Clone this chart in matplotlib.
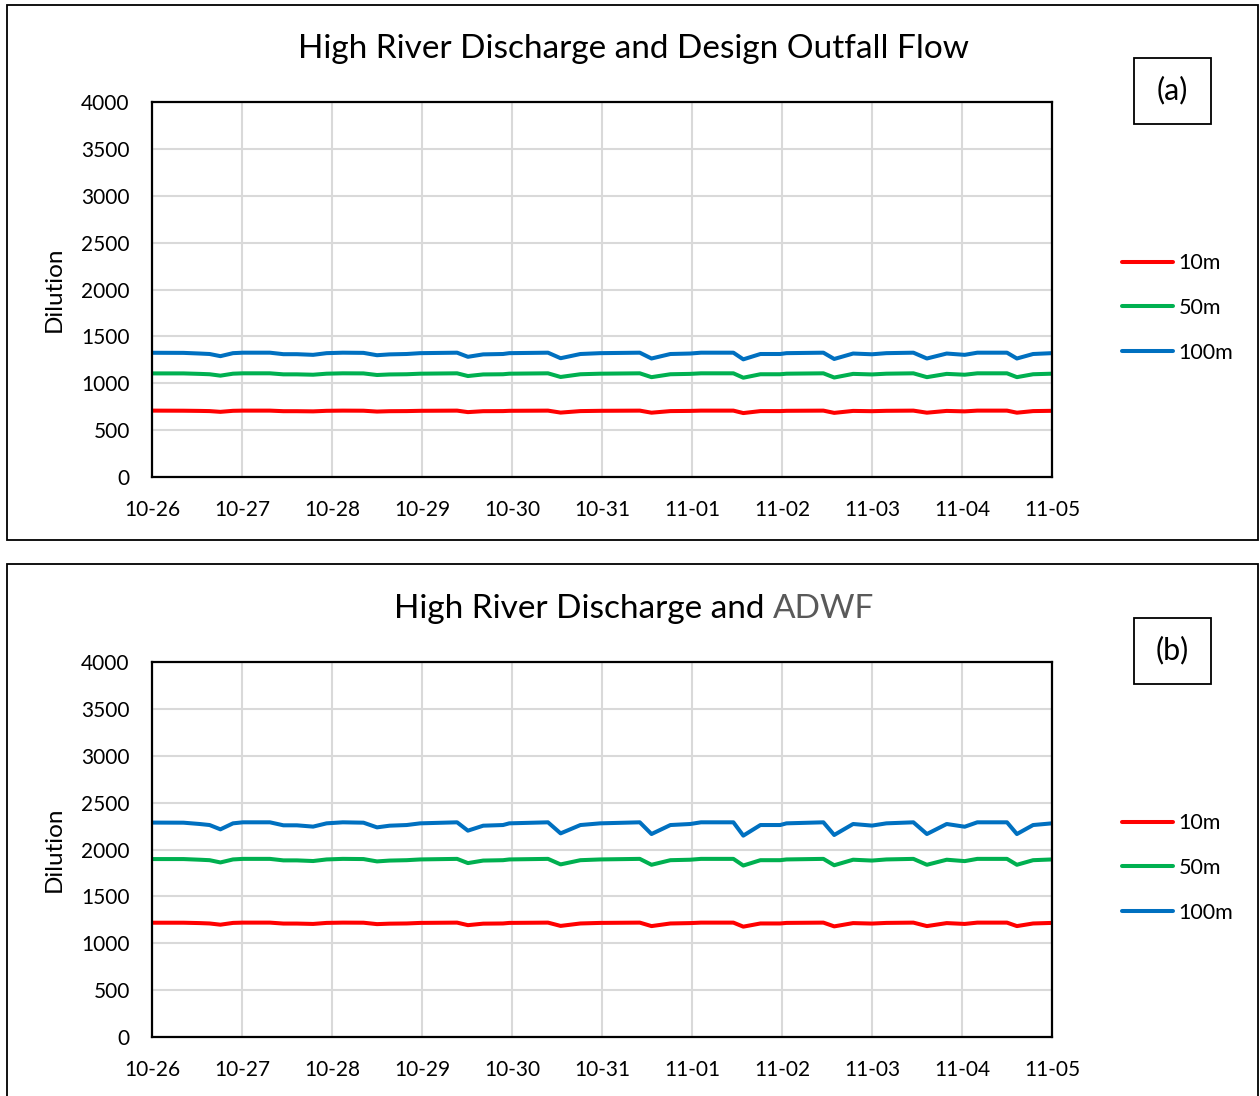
import matplotlib
matplotlib.use("Agg")
import matplotlib.pyplot as plt
from matplotlib.patches import Rectangle

plt.rcParams['font.family'] = ['Lato', 'DejaVu Sans']

# ---- data ----
days = [0.00, 0.35, 0.53, 0.64, 0.76, 0.90, 1.01, 1.31, 1.46, 1.61, 1.79, 1.94, 2.12, 2.35, 2.50,
        2.64, 2.83, 2.98, 3.39, 3.51, 3.68, 3.90, 3.97, 4.40, 4.54, 4.76, 4.98, 5.42, 5.55, 5.76,
        5.98, 6.10, 6.46, 6.57, 6.76, 6.98, 7.05, 7.46, 7.58, 7.79, 8.00, 8.16, 8.46, 8.61, 8.83,
        9.03, 9.17, 9.50, 9.61, 9.79, 10.00]

a_10m = [708, 707, 705, 703, 695, 706, 708, 708, 702, 702, 700, 706, 708, 707, 698, 702, 703, 706,
         708, 692, 702, 703, 706, 708, 687, 703, 706, 708, 686, 703, 705, 708, 708, 682, 703, 703,
         706, 708, 684, 705, 702, 706, 708, 686, 705, 700, 708, 708, 686, 703, 706]
a_50m = [1105, 1105, 1100, 1096, 1081, 1102, 1106, 1106, 1095, 1095, 1091, 1102, 1106, 1105, 1088,
         1094, 1096, 1102, 1106, 1077, 1094, 1096, 1102, 1106, 1067, 1096, 1102, 1106, 1065, 1096,
         1100, 1106, 1106, 1059, 1096, 1096, 1102, 1106, 1061, 1100, 1094, 1102, 1106, 1065, 1100,
         1091, 1106, 1106, 1065, 1096, 1102]
a_100m = [1325, 1324, 1317, 1312, 1289, 1321, 1326, 1326, 1310, 1310, 1303, 1321, 1326, 1324, 1299,
          1308, 1312, 1321, 1326, 1282, 1308, 1312, 1321, 1326, 1267, 1312, 1321, 1326, 1264, 1312,
          1317, 1326, 1326, 1255, 1312, 1312, 1321, 1326, 1259, 1317, 1309, 1321, 1326, 1264, 1317,
          1303, 1326, 1326, 1264, 1312, 1321]

b_10m = [1219, 1219, 1215, 1211, 1198, 1217, 1220, 1220, 1210, 1210, 1206, 1217, 1220, 1219, 1204,
         1209, 1211, 1217, 1220, 1193, 1209, 1211, 1217, 1220, 1185, 1211, 1217, 1220, 1183, 1211,
         1215, 1220, 1220, 1177, 1211, 1211, 1217, 1220, 1180, 1215, 1210, 1217, 1220, 1183, 1215,
         1206, 1220, 1220, 1183, 1211, 1217]
b_50m = [1898, 1898, 1891, 1886, 1862, 1894, 1900, 1900, 1884, 1884, 1877, 1894, 1900, 1898, 1873,
         1882, 1886, 1894, 1900, 1855, 1882, 1886, 1894, 1900, 1841, 1886, 1894, 1900, 1837, 1886,
         1891, 1900, 1900, 1829, 1886, 1886, 1894, 1900, 1832, 1891, 1882, 1894, 1900, 1837, 1891,
         1876, 1900, 1900, 1837, 1886, 1894]
b_100m = [2287, 2286, 2272, 2261, 2215, 2279, 2290, 2290, 2258, 2258, 2244, 2279, 2290, 2286, 2236,
          2254, 2261, 2279, 2290, 2201, 2254, 2261, 2279, 2290, 2172, 2261, 2279, 2290, 2165, 2261,
          2272, 2290, 2290, 2148, 2261, 2261, 2279, 2290, 2155, 2272, 2255, 2279, 2290, 2165, 2272,
          2243, 2290, 2290, 2165, 2261, 2279]

xtick_labels = ['10-26', '10-27', '10-28', '10-29', '10-30', '10-31', '11-01', '11-02', '11-03',
                '11-04', '11-05']
yticks = [0, 500, 1000, 1500, 2000, 2500, 3000, 3500, 4000]
series_names = ['10m', '50m', '100m']
colors = ['#ff0000', '#00b050', '#0070c0']

W, H = 1260, 1096
fig = plt.figure(figsize=(W / 100, H / 100), dpi=100)
fig.patch.set_facecolor('white')


def fx(px):
    return px / W


def fy(py):
    return 1 - py / H


def panel(top_px, box_top, box_bot, series, title_parts, tag):
    # outer box
    fig.add_artist(Rectangle((fx(7), fy(box_bot)), fx(1258) - fx(7), fy(box_top) - fy(box_bot),
                             transform=fig.transFigure, fill=False, edgecolor='black', lw=1.3))
    ax = fig.add_axes([fx(152), fy(top_px + 375), fx(900), 375 / H])
    for vals, c, n in zip(series, colors, series_names):
        ax.plot(days, vals, color=c, lw=2.9, label=n, solid_joinstyle='round', solid_capstyle='round')
    ax.set_xlim(0, 10)
    ax.set_ylim(0, 4000)
    ax.set_xticks(range(len(xtick_labels)))
    ax.set_xticklabels(xtick_labels)
    ax.set_yticks(yticks)
    ax.tick_params(length=0, labelsize=15, colors='black')
    ax.tick_params(axis='x', pad=16.5)
    ax.tick_params(axis='y', pad=16)
    ax.grid(True, color='#d9d9d9', lw=1.5)
    ax.set_axisbelow(True)
    for s in ax.spines.values():
        s.set_linewidth(1.6)
        s.set_color('black')
    ax.set_ylabel('Dilution', fontsize=17.5, labelpad=12)
    ax.legend(loc='center left', bbox_to_anchor=(fx(1103), fy(top_px + 206)),
              bbox_transform=fig.transFigure, frameon=False, fontsize=15.5,
              handlelength=2.37, handletextpad=0.25, labelspacing=1.15)
    # tag box
    fig.add_artist(Rectangle((fx(1134), fy(top_px + 22)), fx(77), 66 / H,
                             transform=fig.transFigure, fill=False, edgecolor='black', lw=1.3))
    fig.text(fx(1172.5), fy(top_px - 12), tag, ha='center', va='center', fontsize=22)
    # title
    ty = fy(top_px - 53)
    texts = []
    for txt, col in title_parts:
        texts.append(fig.text(0, ty, txt, ha='left', va='center', fontsize=24, color=col))
    return ax, texts


ax1, t1 = panel(102, 5, 540, [a_10m, a_50m, a_100m],
                [('High River Discharge and Design Outfall Flow', 'black')], '(a)')
ax2, t2 = panel(662, 564, 1110, [b_10m, b_50m, b_100m],
                [('High River Discharge and ', 'black'), ('ADWF', '#595959')], '(b)')

fig.canvas.draw()
r = fig.canvas.get_renderer()
for texts in (t1, t2):
    widths = [t.get_window_extent(r).width for t in texts]
    total = sum(widths)
    x0 = 634 - total / 2
    for t, w in zip(texts, widths):
        t.set_x(fx(x0))
        x0 += w

fig.savefig('out.png', dpi=100, facecolor='white')
